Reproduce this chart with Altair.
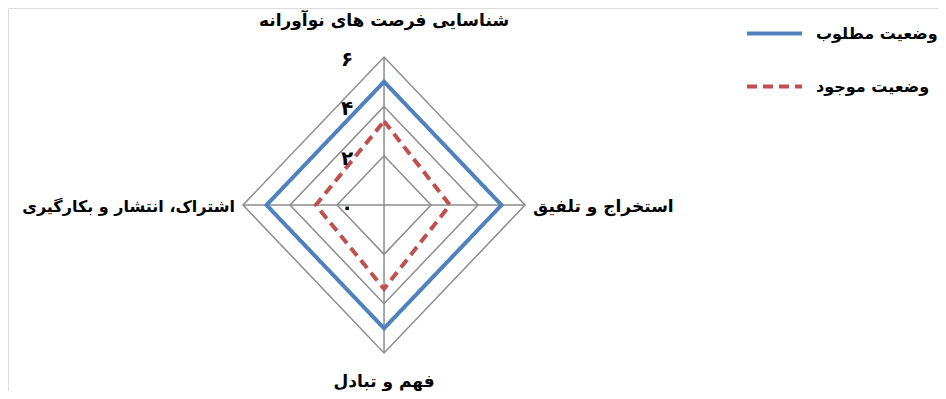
import altair as alt
import pandas as pd

categories = ["شناسایی فرصت های نوآورانه", "استخراج و تلفیق", "فهم و تبادل", "اشتراک، انتشار و بکارگیری"]
angles_deg = [0, 90, 180, 270]
series_names = ["وضعیت مطلوب", "وضعیت موجود"]
desired = [5, 5, 5, 5]
current = [3.4, 2.8, 3.4, 2.9]
grid_levels = [2, 4, 6]
tick_labels = ["۰", "۲", "۴", "۶"]
tick_values = [0, 2, 4, 6]
max_val = 6

FONT = "DejaVu Sans"

rows = []
for name, vals in zip(series_names, [desired, current]):
    for i, (c, a, v) in enumerate(zip(categories, angles_deg, vals)):
        rows.append({"series": name, "cat": c, "idx": i, "ang": a, "value": v})
series_df = pd.DataFrame(rows)

grid_df = pd.DataFrame([{"level": l, "idx": i, "ang": a, "value": l}
                        for l in grid_levels for i, a in enumerate(angles_deg)])
spoke_df = pd.DataFrame([{"ang": a, "value": v, "k": k} for a in angles_deg for k, v in enumerate([0, max_val])])
cat_df = pd.DataFrame([{"cat": c, "ang": a, "value": max_val} for c, a in zip(categories, angles_deg)])
tick_df = pd.DataFrame({"label": tick_labels, "value": tick_values, "ang": 0})

W, H = 930, 383
xs = alt.Scale(domain=[-16.0, 23.57], nice=False, zero=False)
ys = alt.Scale(domain=[-7.54, 7.99], nice=False, zero=False)

def polar(ch):
    return ch.transform_calculate(
        px="datum.value * sin(datum.ang * PI / 180)",
        py="datum.value * cos(datum.ang * PI / 180)",
    )

X = alt.X("px:Q", scale=xs, axis=None)
Y = alt.Y("py:Q", scale=ys, axis=None)

grid = polar(alt.Chart(grid_df)).mark_line(
    interpolate="linear-closed", color="#8c8c8c", strokeWidth=1.5
).encode(x=X, y=Y, detail="level:N", order="idx:Q")

spokes = polar(alt.Chart(spoke_df)).mark_line(
    color="#8c8c8c", strokeWidth=1.5
).encode(x=X, y=Y, detail="ang:N", order="k:Q")

lines = polar(alt.Chart(series_df)).mark_line(
    interpolate="linear-closed", strokeWidth=4
).encode(
    x=X, y=Y, order="idx:Q",
    color=alt.Color("series:N", scale=alt.Scale(domain=series_names, range=["#4F81BD", "#C0504D"]),
                    legend=alt.Legend(title=None, orient="none", legendX=737, legendY=-4,
                                      symbolType="stroke", symbolSize=3025, symbolStrokeWidth=4,
                                      labelFont=FONT, labelFontSize=16, labelFontWeight="bold",
                                      labelColor="black", rowPadding=15, padding=0, labelOffset=12,
                                      labelLimit=300)),
    strokeDash=alt.StrokeDash("series:N", scale=alt.Scale(domain=series_names, range=[[1, 0], [10, 6]]),
                              legend=None),
)

ticks = polar(alt.Chart(tick_df)).mark_text(
    font=FONT, fontSize=20, fontWeight="bold", dx=-37, dy=3, align="center", baseline="middle", color="black"
).encode(x=X, y=Y, text="label:N")

top_lab = polar(alt.Chart(cat_df).transform_filter("datum.ang == 0")).mark_text(
    font=FONT, fontSize=17, fontWeight="bold", dy=-36, align="center", baseline="middle", color="black"
).encode(x=X, y=Y, text="cat:N")
right_lab = polar(alt.Chart(cat_df).transform_filter("datum.ang == 90")).mark_text(
    font=FONT, fontSize=17, fontWeight="bold", dx=8, dy=2, align="left", baseline="middle", color="black"
).encode(x=X, y=Y, text="cat:N")
bottom_lab = polar(alt.Chart(cat_df).transform_filter("datum.ang == 180")).mark_text(
    font=FONT, fontSize=17, fontWeight="bold", dy=29, align="center", baseline="middle", color="black"
).encode(x=X, y=Y, text="cat:N")
left_lab = polar(alt.Chart(cat_df).transform_filter("datum.ang == 270")).mark_text(
    font=FONT, fontSize=16, fontWeight="bold", dx=-8, dy=2, align="right", baseline="middle", color="black"
).encode(x=X, y=Y, text="cat:N")

chart = alt.layer(grid, spokes, lines, ticks, top_lab, right_lab, bottom_lab, left_lab).properties(
    width=W, height=H, padding=0, autosize=alt.AutoSizeParams(type="none")
).configure_view(strokeWidth=0, strokeOpacity=0).configure(background="white")

chart.save("out.html", embed_options={"renderer": "svg", "actions": False})
